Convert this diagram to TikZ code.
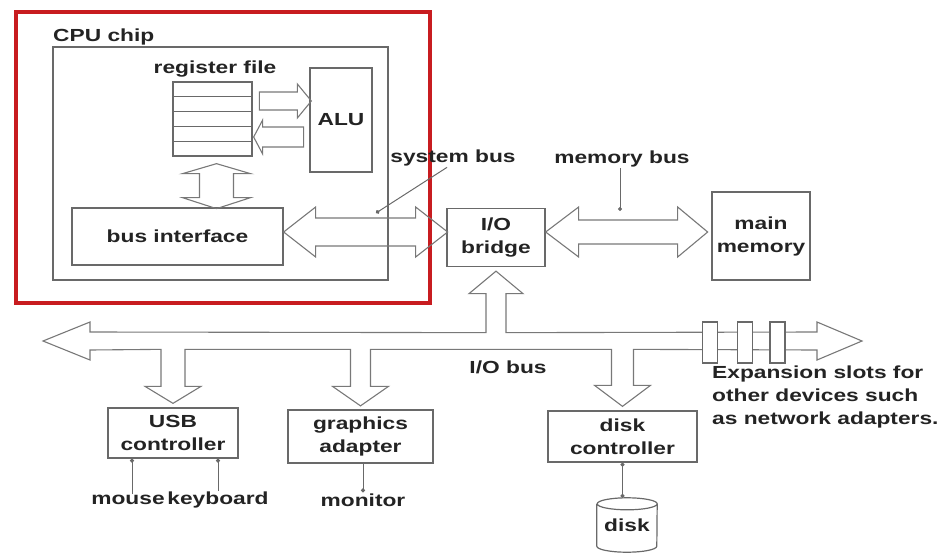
\documentclass[tikz,border=0pt]{standalone}
\usepackage{xcolor}
\usepackage{fontspec}
\usepackage{tikz}
\usetikzlibrary{calc,arrows.meta}
\newfontfamily\diagfont[FakeStretch=1.3]{Liberation Sans}
\newcommand{\diagtext}{\diagfont\bfseries\fontsize{17.5}{23}\selectfont}
\definecolor{chipred}{RGB}{200, 28, 32}
\definecolor{boxgray}{RGB}{105, 105, 105}
\definecolor{arrowgray}{RGB}{120, 120, 120}
\definecolor{textdark}{RGB}{35, 35, 35}

\begin{document}
\begin{tikzpicture}[
    x=1pt, y=-1pt,
    txt/.style={text=textdark,font=\diagtext},
    box/.style={txt,draw=boxgray,line width=1.3pt,inner sep=0pt,align=center},
    lbl/.style={txt,inner sep=1pt,align=left},
    fat/.style={draw=arrowgray,line width=1.1pt,line join=miter},
    ptr/.style={draw=boxgray,line width=1pt,-{Circle[length=4pt]}},
    slot/.style={draw=boxgray,fill=white,line width=1.1pt,minimum width=15,minimum height=41}
]
\useasboundingbox (0,0) rectangle (940,552);

% CPU side
\node[draw=chipred,line width=4pt,minimum width=414.5,minimum height=291.5] (cpuframe) at (222.75,157.25) {};
\node[box,minimum width=335,minimum height=233] (chip) at (220.5,163.5) {};
\node[lbl,anchor=base west] (chiplbl) at (52,41) {CPU chip};
\node[box,minimum width=79,minimum height=74] (regs) at (212.5,119) {};
\node[lbl] (regslbl) at (215,69) {register file};
\node[box,minimum width=62,minimum height=104] (alu) at (341,120) {ALU};
\node[box,minimum width=211,minimum height=57] (busif) at (177.5,236.5) {bus interface};
\foreach \k in {1,...,4}
  \draw[boxgray,line width=1pt] ($(regs.north west)!\k/5!(regs.south west)$) -- ($(regs.north east)!\k/5!(regs.south east)$);

% bridge and memory
\node[box,minimum width=98,minimum height=58] (bridge) at (496,237.5) {I/O\\bridge};
\node[box,minimum width=98,minimum height=88] (mainmem) at (761,236) {main\\memory};
\node[lbl] (sysbus) at (453,158) {system bus};
\node[lbl] (membus) at (622,159) {memory bus};

% devices
\node[box,minimum width=130,minimum height=50] (usb) at (173,433) {USB\\controller};
\node[box,minimum width=145,minimum height=53] (gfx) at (360.5,436.5) {graphics\\adapter};
\node[box,minimum width=149,minimum height=51] (dc) at (622.5,436.5) {disk\\controller};
\node[txt,minimum width=60,minimum height=54,inner sep=0pt] (disk) at (627,525) {disk};
\node[lbl] (iobus) at (508,367) {I/O bus};
\node[lbl] (mouse) at (128,500) {mouse};
\node[lbl] (keyboard) at (218,500) {keyboard};
\node[lbl] (monitor) at (363,500) {monitor};
\node[lbl,anchor=north west] (expslots) at (711,365) {Expansion slots for\\other devices such\\as network adapters.};

% fat arrows
\draw[fat] ($(alu.west)+(2,-19)$) -- ++(-14,-17) -- ++(0,8) -- ++(-38,0) -- ++(0,18) -- ++(38,0) -- ++(0,8) -- cycle;
\draw[fat] ($(regs.east)+(1,18)$) -- ++(9,-17) -- ++(0,7) -- ++(41,0) -- ++(0,20) -- ++(-41,0) -- ++(0,7) -- cycle;
\draw[fat] ($(regs.south)+(4,7)$) -- ++(-34,10) -- ++(17,0) -- ++(0,24) -- ++(-17,0) -- ++(34,11)
  -- ++(34,-11) -- ++(-17,0) -- ++(0,-24) -- ++(17,0) -- cycle;
\draw[fat] ($(busif.east)+(0,-4.5)$) -- ++(32,-25) -- ++(0,11) -- ++(100,0) -- ++(0,-11) -- ++(32,25)
  -- ++(-32,25) -- ++(0,-11) -- ++(-100,0) -- ++(0,11) -- cycle;
\draw[fat] ($(bridge.east)+(0,-5.5)$) -- ++(33,-25) -- ++(0,13) -- ++(99,0) -- ++(0,-13) -- ++(30,25)
  -- ++(-30,25) -- ++(0,-13) -- ++(-99,0) -- ++(0,13) -- cycle;

% I/O bus
\coordinate (busL) at (43,341);
\coordinate (busR) at (862,341);
\draw[fat] (busL) -- ++(47,-19) -- ++(0,10)
  -- ($(bridge.south)+(-10,65.5)$) -- ++(0,-39) -- ++(-17,0) -- ++(27,-22.5) -- ++(27,22.5) -- ++(-17,0) -- ++(0,39)
  -- ($(busR)+(-45,-9)$) -- ++(0,-10) -- (busR) -- ++(-45,19) -- ++(0,-10)
  -- ($(dc.north)+(11,-61)$) -- ++(0,36) -- ++(17,0) -- ++(-28,21) -- ++(-28,-21) -- ++(17,0) -- ++(0,-36)
  -- ($(gfx.north)+(10,-60)$) -- ++(0,37) -- ++(18,0) -- ++(-28,19.5) -- ++(-28,-19.5) -- ++(18,0) -- ++(0,-37)
  -- ($(usb.north)+(12,-58)$) -- ++(0,37) -- ++(16,0) -- ++(-28,17) -- ++(-28,-17) -- ++(16,0) -- ++(0,-37)
  -- ($(busL)+(47,9)$) -- ++(0,10) -- cycle;
\foreach \x [count=\i] in {710,745,777.5}
  \node[slot] (slot\i) at (\x,342.5) {};

% pointers
\coordinate (sysbusend) at (376,213);
\coordinate (membusend) at (620,211);
\draw[ptr] ([xshift=-6pt]sysbus.south) -- (sysbusend);
\draw[ptr] (membus.south -| membusend) -- (membusend);
\draw[ptr] ([xshift=4pt]mouse.north) -- ([xshift=4pt]mouse.north |- usb.south);
\draw[ptr] (keyboard) -- (keyboard |- usb.south);
\draw[ptr] (gfx.south -| monitor) -- (monitor);
\draw[ptr,{Circle[length=4pt]}-{Circle[length=4pt]}] (dc.south) -- (dc.south |- disk.north);

% disk
\draw[boxgray,line width=1.2pt] ($(disk.north west)+(0,6)$) -- ($(disk.south west)+(0,-6)$)
  arc[start angle=180,end angle=360,x radius=30pt,y radius=6pt] -- ($(disk.north east)+(0,6)$)
  arc[start angle=0,end angle=360,x radius=30pt,y radius=6pt];
\end{tikzpicture}
\end{document}
